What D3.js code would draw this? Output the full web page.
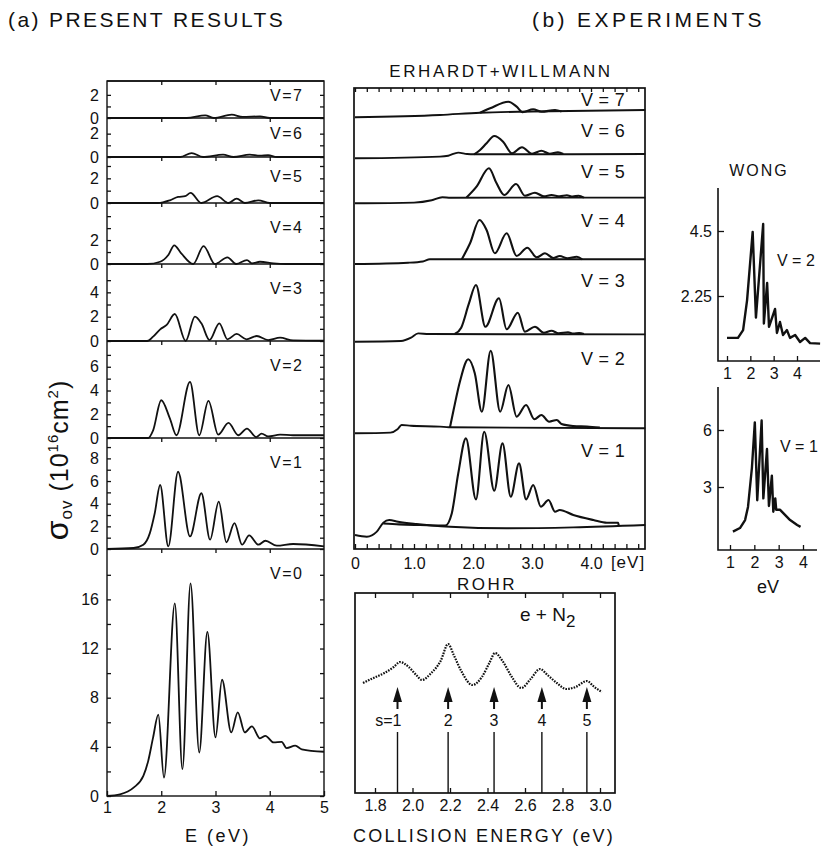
<!DOCTYPE html>
<html>
<head>
<meta charset="utf-8">
<script src="https://cdn.jsdelivr.net/npm/d3@7"></script>
<style>
  body { margin: 0; background: #fff; }
  text { font-family: "Liberation Sans", Arial, sans-serif; fill: #111; }
</style>
</head>
<body>
<svg id="chart" width="821" height="846"></svg>
<script>
// ---------- (a) present results: sigma (1e-16 cm^2) vs E (eV) ----------
const pres7 = [[1,0],[2.47,0],[2.81,0.23],[2.97,0],[3.3,0.29],[3.5,0.09],[3.82,0.14],[4.0,0],[5,0]];
const pres6 = [[1,0],[2.35,0],[2.56,0.34],[2.77,0],[3.14,0.2],[3.33,0],[3.63,0.2],[3.82,0.11],[3.97,0.15],[4.13,0],[5,0]];
const pres5 = [[1,0],[1.94,0],[2.16,0.22],[2.31,0.49],[2.44,0.55],[2.54,0.82],[2.74,0],[3.03,0.55],[3.24,0],[3.39,0.36],[3.54,0],[3.79,0.22],[4.0,0],[5,0]];
const pres4 = [[1,0],[1.74,0],[1.98,0.19],[2.13,0.75],[2.24,1.56],[2.36,0.94],[2.59,0],[2.78,1.5],[2.99,0],[3.22,0.56],[3.38,0],[3.58,0.33],[3.67,0.05],[3.82,0.19],[4.07,0.05],[4.3,0],[5,0]];
const pres3 = [[1,0],[1.74,0],[1.85,0.36],[1.98,0.96],[2.1,1.32],[2.25,2.22],[2.45,0],[2.62,2.0],[2.74,1.45],[2.89,0.08],[3.07,1.45],[3.22,0.14],[3.39,0.58],[3.57,0.14],[3.76,0.41],[3.97,0.08],[4.19,0.27],[4.43,0.05],[5,0.02]];
const pres2 = [[1,0],[1.76,0],[1.85,0.65],[2.0,3.18],[2.16,1.63],[2.28,0.23],[2.53,4.73],[2.7,0.23],[2.87,3.13],[3.05,0.28],[3.24,1.27],[3.42,0.23],[3.58,0.79],[3.75,0.08],[3.85,0.37],[3.97,0.14],[4.19,0.28],[4.43,0.23],[5,0.23]];
const pres1 = [[1,0],[1.49,0.09],[1.67,0.38],[1.79,1.4],[1.88,3.16],[1.98,5.65],[2.13,0.23],[2.31,6.82],[2.53,1.11],[2.74,4.92],[2.9,0.82],[3.06,4.19],[3.2,0.59],[3.35,2.28],[3.49,0.38],[3.62,1.2],[3.79,0.38],[3.92,0.73],[4.13,0.29],[4.43,0.44],[5,0.23]];
const pres0 = [[1,0],[1.24,0.14],[1.49,0.68],[1.67,1.63],[1.76,2.86],[1.85,4.77],[1.946,6.62],[2.05,1.5],[2.25,15.67],[2.39,2.18],[2.54,17.3],[2.7,3.54],[2.85,13.35],[3.0,4.77],[3.12,9.46],[3.29,5.18],[3.41,6.81],[3.54,5.18],[3.67,5.67],[3.82,4.69],[3.92,4.9],[4.07,4.36],[4.22,4.4],[4.31,3.9],[4.47,4.1],[4.59,3.8],[5,3.6]];

const presV = [7, 6, 5, 4, 3, 2, 1, 0];
const presCurves = [pres7, pres6, pres5, pres4, pres3, pres2, pres1, pres0];
const presYMax = [3.2, 3.34, 3.73, 5.1, 6.33, 8.17, 9.8, 20.1];
const presTickStep = [1, 1, 1, 1, 1, 1, 1, 2];
const presLabelStep = [2, 2, 2, 2, 2, 2, 2, 4];
const presLabelMax = [2, 2, 2, 2, 4, 6, 8, 16];
const presXTicks = [1, 2, 3, 4, 5];

// ---------- (b) Erhardt + Willmann: background and resonance, arb. units ----------
const ewBase7 = [[0,0],[1.44,2.3],[2.12,4.6],[3.0,5.8],[4.92,7.3]];
const ewRes7 = [[2.12,4.6],[2.29,9],[2.6,15.6],[2.74,10.6],[2.84,5.2],[3.02,8],[3.16,5.5],[3.39,7.3],[3.5,5.8]];
const ewBase6 = [[0,0],[1.44,1.7],[1.58,2.6],[1.75,5.7],[1.9,4.3],[2.02,4],[4.92,4.3]];
const ewRes6 = [[2.02,4],[2.12,8.3],[2.23,15],[2.36,22.3],[2.51,16.6],[2.66,5],[2.83,11],[3.0,4.5],[3.16,7.6],[3.3,4.5],[3.44,6],[3.53,4.3]];
const ewBase5 = [[0,0],[1.0,0.7],[1.3,3],[1.48,6],[1.62,5.6],[4.92,5.7]];
const ewRes5 = [[1.89,5.7],[2.06,16.6],[2.27,35],[2.4,20],[2.53,8.3],[2.73,19.3],[2.88,7.6],[3.05,10.6],[3.2,7],[3.33,8.3],[3.47,7],[3.59,8],[3.69,6.8],[3.79,7.6],[3.88,5.7]];
const ewBase4 = [[0,0],[0.9,1.3],[1.15,2.5],[1.27,4.7],[1.4,4.7],[4.92,4.7]];
const ewRes4 = [[1.81,4.7],[1.95,20.7],[2.11,44],[2.23,34],[2.37,10.7],[2.57,30.7],[2.74,8],[2.92,16.3],[3.08,6.7],[3.22,10.7],[3.36,6],[3.47,8],[3.6,5.8],[3.76,7.3],[3.85,4.7]];
const ewBase3 = [[0,0],[0.78,0.7],[0.95,4],[1.07,8.3],[1.25,7.7],[4.92,7.3]];
const ewRes3 = [[1.69,7.7],[1.8,14],[1.93,38],[2.05,56.7],[2.21,15],[2.44,43.4],[2.57,12.4],[2.76,29],[2.88,10],[3.05,15],[3.2,9],[3.33,11],[3.45,8.4],[3.61,9.4],[3.7,8.2],[3.8,8.7],[3.88,7.7]];
const ewBase2 = [[0,0],[0.6,0.7],[0.72,4],[0.79,8.3],[0.95,7.5],[1.44,6.7],[1.59,6],[4.92,5]];
const ewRes2 = [[1.61,6],[1.67,23],[1.78,52],[1.92,74],[2.03,60],[2.15,21.6],[2.3,82.6],[2.46,21.6],[2.6,48.3],[2.74,16.6],[2.9,28.3],[3.04,14],[3.16,18.3],[3.29,11.6],[3.42,13.3],[3.5,9.3],[3.7,7.3],[3.93,6.7],[4.15,5.7]];
const ewBase1 = [[0,0],[0.2,-1.7],[0.37,3.3],[0.48,12.3],[0.58,15],[0.73,13.3],[1.04,11],[1.61,8.3],[2.57,6.7],[3.7,7.6],[4.92,10]];
const ewRes1 = [[0.48,11.5],[0.75,10.6],[1.1,10],[1.53,9.4],[1.64,21.6],[1.75,61.6],[1.88,96.6],[2.05,35.6],[2.19,103.3],[2.36,44.3],[2.5,91.6],[2.64,38.3],[2.78,71.6],[2.9,35.6],[3.02,50],[3.15,28.3],[3.28,35],[3.39,23.3],[3.47,25],[3.7,20],[4.04,15],[4.27,12.3],[4.46,12.3],[4.47,9.5]];

const ewV = [7, 6, 5, 4, 3, 2, 1];
const ewBases = [ewBase7, ewBase6, ewBase5, ewBase4, ewBase3, ewBase2, ewBase1];
const ewRes = [ewRes7, ewRes6, ewRes5, ewRes4, ewRes3, ewRes2, ewRes1];
const ewXLabels = [0, 1, 2, 3, 4];

// ---------- Wong ----------
const wong2 = [[1.0,0.8],[1.47,0.8],[1.69,1.07],[1.86,2.1],[2.1,4.47],[2.24,1.5],[2.55,4.74],[2.58,1.3],[2.72,2.7],[2.8,1.18],[3.06,1.8],[3.14,0.97],[3.27,1.35],[3.4,0.9],[3.57,1.07],[3.7,0.8],[3.92,0.9],[4.13,0.66],[4.35,0.8],[4.56,0.62],[4.99,0.6]];
const wong1 = [[1.12,0.65],[1.41,0.84],[1.62,1.26],[1.74,1.95],[1.9,4.0],[2.02,6.4],[2.12,2.3],[2.3,6.5],[2.37,2.4],[2.52,5.0],[2.6,2.0],[2.72,3.6],[2.78,1.7],[2.86,2.4],[2.9,1.8],[3.06,1.8],[3.47,1.26],[3.76,1.0],[3.9,0.9]];
const wong2YTicks = [2.25, 4.5];
const wong1YTicks = [3, 6];
const wongXTicks = [1, 2, 3, 4];

// ---------- Rohr: e + N2, arb. units vs collision energy ----------
const rohr = [[1.736,55],[1.78,57],[1.85,60],[1.9,63],[1.933,65.5],[1.98,63],[2.02,59],[2.05,56.5],[2.1,60],[2.15,66],[2.19,74.5],[2.22,69],[2.26,61],[2.32,54],[2.37,58],[2.41,65],[2.44,70],[2.48,66],[2.53,58],[2.58,52.5],[2.63,57],[2.68,62],[2.72,59],[2.77,55],[2.82,52],[2.87,53],[2.93,56],[2.97,53],[3.01,50.5]];
const rohrArrowE = [1.92, 2.19, 2.435, 2.69, 2.93];
const rohrArrowLabels = ['s=1', '2', '3', '4', '5'];
const rohrXTicks = [1.8, 2.0, 2.2, 2.4, 2.6, 2.8, 3.0];

const svg = d3.select('#chart');
const ink = '#111';

let lineOf = (x, y, curve) => d3.line().x(d => x(d[0])).y(d => y(d[1])).curve(curve);

let styleAxis = (g, size) => {
  g.select('.domain').remove();
  g.selectAll('line').attr('stroke', ink).attr('stroke-width', 1.3);
  g.selectAll('text').attr('fill', ink).style('font-size', size + 'px');
};

// ---------- titles ----------
svg.append('text').attr('x', 8).attr('y', 27).style('font-size', '21px')
  .style('letter-spacing', '2.4px').text('(a) PRESENT RESULTS');
svg.append('text').attr('x', 532).attr('y', 27).style('font-size', '21px')
  .style('letter-spacing', '3.4px').text('(b) EXPERIMENTS');

// ---------- (a) panels ----------
const presX = d3.scaleLinear().domain([1, 5]).range([107, 324]);
const presEdges = [81, 118, 157, 203, 264, 341, 438, 549, 796];

presV.forEach((v, i) => {
  const top = presEdges[i];
  const bot = presEdges[i + 1];
  const y = d3.scaleLinear().domain([0, presYMax[i]]).range([bot, top]);
  const ticks = d3.range(0, presYMax[i] - 0.4, presTickStep[i]);

  svg.append('g').attr('transform', `translate(${presX.range()[0]},0)`)
    .call(d3.axisLeft(y).tickValues(ticks).tickSize(-4).tickPadding(8)
      .tickFormat(d => (d % presLabelStep[i] === 0 && d <= presLabelMax[i] ? d : '')))
    .call(g => styleAxis(g, 16));
  svg.append('g').attr('transform', `translate(${presX.range()[1]},0)`)
    .call(d3.axisRight(y).tickValues(ticks).tickSize(-4).tickFormat(''))
    .call(g => styleAxis(g, 16));
  svg.append('g').attr('transform', `translate(0,${top})`)
    .call(d3.axisTop(presX).tickValues([2, 3, 4]).tickSize(-4).tickFormat(''))
    .call(g => styleAxis(g, 16));

  svg.append('line').attr('x1', presX(1)).attr('x2', presX(5))
    .attr('y1', top).attr('y2', top).attr('stroke', ink).attr('stroke-width', 1.4);

  svg.append('path').datum(presCurves[i])
    .attr('d', lineOf(presX, y, d3.curveMonotoneX))
    .attr('fill', 'none').attr('stroke', ink).attr('stroke-width', 1.8);

  svg.append('text').attr('x', 270).attr('y', top + Math.min(30, 0.55 * (bot - top)))
    .style('font-size', '16px').style('letter-spacing', '1.5px').text('V=' + v);
});

// frame sides and bottom axis
svg.append('rect').attr('x', presX(1)).attr('y', presEdges[0])
  .attr('width', presX(5) - presX(1)).attr('height', presEdges[8] - presEdges[0])
  .attr('fill', 'none').attr('stroke', ink).attr('stroke-width', 1.4);
svg.append('g').attr('transform', `translate(0,${presEdges[8]})`)
  .call(d3.axisBottom(presX).tickValues(presXTicks).tickSize(-5).tickPadding(6).tickFormat(d3.format('d')))
  .call(g => styleAxis(g, 16));
svg.append('text').attr('x', 218).attr('y', 842).attr('text-anchor', 'middle')
  .style('font-size', '18px').style('letter-spacing', '2.5px').text('E (eV)');

// y-axis title
const yTitle = svg.append('text').attr('transform', 'translate(68,460) rotate(-90)')
  .attr('text-anchor', 'middle').style('letter-spacing', '1px');
yTitle.append('tspan').style('font-size', '32px').text('σ');
yTitle.append('tspan').style('font-size', '17px').attr('dy', 4).text('ov');
yTitle.append('tspan').style('font-size', '25px').attr('dy', -4).text(' (10');
yTitle.append('tspan').style('font-size', '15px').attr('dy', -10).text('16');
yTitle.append('tspan').style('font-size', '25px').attr('dy', 10).text('cm');
yTitle.append('tspan').style('font-size', '15px').attr('dy', -10).text('2');
yTitle.append('tspan').style('font-size', '25px').attr('dy', 10).text(')');

// ---------- (b) Erhardt + Willmann ----------
const ewX = d3.scaleLinear().domain([0, 4]).range([355, 591]);
const ewY = d3.scaleLinear().domain([0, 100]).range([0, -100]);
const ewOffsets = [117.3, 158.3, 203.3, 264, 341.7, 433.3, 535];
const ewLabelY = [106, 137, 178, 227, 287, 365, 457];
const ewFrame = { left: 354, right: 645, top: 88, bottom: 549 };
const ewTicks = d3.range(0, 4.85, 0.2);

svg.append('text').attr('x', 501).attr('y', 77).attr('text-anchor', 'middle')
  .style('font-size', '17px').style('letter-spacing', '2.6px').text('ERHARDT+WILLMANN');

svg.append('rect').attr('x', ewFrame.left).attr('y', ewFrame.top)
  .attr('width', ewFrame.right - ewFrame.left).attr('height', ewFrame.bottom - ewFrame.top)
  .attr('fill', 'none').attr('stroke', ink).attr('stroke-width', 1.7);
svg.append('g').attr('transform', `translate(0,${ewFrame.bottom})`)
  .call(d3.axisBottom(ewX).tickValues(ewTicks).tickSize(-5).tickPadding(7).tickFormat(''))
  .call(g => styleAxis(g, 16));
svg.append('g').attr('transform', `translate(0,${ewFrame.top})`)
  .call(d3.axisTop(ewX).tickValues(ewTicks).tickSize(-4).tickFormat(''))
  .call(g => styleAxis(g, 16));
svg.append('g').attr('transform', `translate(0,${ewFrame.bottom})`)
  .call(d3.axisBottom(ewX).tickValues(ewXLabels).tickSize(0).tickPadding(9)
    .tickFormat(d => (d === 0 ? '0' : d3.format('.1f')(d))))
  .call(g => styleAxis(g, 16));
svg.append('text').attr('x', 628).attr('y', 568).attr('text-anchor', 'middle')
  .style('font-size', '17px').style('letter-spacing', '1px').text('[eV]');

ewV.forEach((v, i) => {
  const g = svg.append('g').attr('transform', `translate(0,${ewOffsets[i]})`);
  g.append('path').datum(ewBases[i])
    .attr('d', lineOf(ewX, ewY, d3.curveMonotoneX))
    .attr('fill', 'none').attr('stroke', ink).attr('stroke-width', 1.9);
  g.append('path').datum(ewRes[i])
    .attr('d', lineOf(ewX, ewY, d3.curveMonotoneX))
    .attr('fill', 'none').attr('stroke', ink).attr('stroke-width', 2.1);
  svg.append('text').attr('x', 581).attr('y', ewLabelY[i])
    .style('font-size', '18px').style('letter-spacing', '0.3px').text('V = ' + v);
});

// ---------- Rohr ----------
const rohrX = d3.scaleLinear().domain([1.8, 3.0]).range([375, 600]);
const rohrY = d3.scaleLinear().domain([0, 100]).range([793, 593]);
const rohrFrame = { left: 355, right: 615, top: 593, bottom: 793 };

svg.append('text').attr('x', 487).attr('y', 590).attr('text-anchor', 'middle')
  .style('font-size', '17px').style('letter-spacing', '2.5px').text('ROHR');
svg.append('rect').attr('x', rohrFrame.left).attr('y', rohrFrame.top)
  .attr('width', rohrFrame.right - rohrFrame.left).attr('height', rohrFrame.bottom - rohrFrame.top)
  .attr('fill', 'none').attr('stroke', ink).attr('stroke-width', 1.7);
svg.append('g').attr('transform', `translate(0,${rohrFrame.bottom})`)
  .call(d3.axisBottom(rohrX).tickValues(rohrXTicks).tickSize(-5).tickPadding(7).tickFormat(d3.format('.1f')))
  .call(g => styleAxis(g, 16));
svg.append('g').attr('transform', `translate(0,${rohrFrame.top})`)
  .call(d3.axisTop(rohrX).tickValues(rohrXTicks).tickSize(-5).tickFormat(''))
  .call(g => styleAxis(g, 16));
svg.append('text').attr('x', 484).attr('y', 842).attr('text-anchor', 'middle')
  .style('font-size', '18px').style('letter-spacing', '2.2px').text('COLLISION ENERGY (eV)');

const eN2 = svg.append('text').attr('x', 520).attr('y', 621).style('font-size', '19px');
eN2.append('tspan').text('e + N');
eN2.append('tspan').attr('dy', 6).style('font-size', '17px').text('2');

svg.append('path').datum(rohr)
  .attr('d', lineOf(rohrX, rohrY, d3.curveMonotoneX))
  .attr('fill', 'none').attr('stroke', ink).attr('stroke-width', 2.2)
  .attr('stroke-dasharray', '1.6 1.2');

rohrArrowE.forEach((e, i) => {
  const x = rohrX(e);
  svg.append('line').attr('x1', x).attr('x2', x).attr('y1', rohrFrame.bottom).attr('y2', 732)
    .attr('stroke', ink).attr('stroke-width', 1.4);
  svg.append('line').attr('x1', x).attr('x2', x).attr('y1', 709).attr('y2', 698)
    .attr('stroke', ink).attr('stroke-width', 2);
  svg.append('path').attr('d', `M${x},687 L${x - 4.5},702 L${x + 4.5},702 Z`).attr('fill', ink);
  svg.append('text').attr('x', i === 0 ? x + 4 : x).attr('y', 726)
    .attr('text-anchor', i === 0 ? 'end' : 'middle').style('font-size', '16px')
    .text(rohrArrowLabels[i]);
});

// ---------- Wong ----------
svg.append('text').attr('x', 759).attr('y', 176).attr('text-anchor', 'middle')
  .style('font-size', '16px').style('letter-spacing', '2px').text('WONG');

let drawWong = (data, x, y, yTicks, box, label, labelX, labelY, showUnit) => {
  svg.append('path')
    .attr('d', `M${box.left},${box.top} L${box.left},${box.bottom} L${box.right},${box.bottom}`)
    .attr('fill', 'none').attr('stroke', ink).attr('stroke-width', 1.6);
  svg.append('g').attr('transform', `translate(${box.left},0)`)
    .call(d3.axisLeft(y).tickValues(yTicks).tickSize(-6).tickPadding(6).tickFormat(d => d))
    .call(g => styleAxis(g, 16));
  svg.append('g').attr('transform', `translate(0,${box.bottom})`)
    .call(d3.axisBottom(x).tickValues(wongXTicks).tickSize(-5).tickPadding(7).tickFormat(d3.format('d')))
    .call(g => styleAxis(g, 16));
  svg.append('path').datum(data)
    .attr('d', lineOf(x, y, d3.curveLinear))
    .attr('fill', 'none').attr('stroke', ink).attr('stroke-width', 2.4).attr('stroke-linejoin', 'round');
  svg.append('text').attr('x', labelX).attr('y', labelY)
    .style('font-size', '16px').text(label);
  if (showUnit) {
    svg.append('text').attr('x', 768).attr('y', box.bottom + 43).attr('text-anchor', 'middle')
      .style('font-size', '18px').text('eV');
  }
};

drawWong(wong2,
  d3.scaleLinear().domain([1, 4]).range([727, 797]),
  d3.scaleLinear().domain([0, 4.5]).range([361, 231]),
  wong2YTicks, { left: 718, right: 820, top: 188, bottom: 361 }, 'V = 2', 777, 266, false);
drawWong(wong1,
  d3.scaleLinear().domain([1, 4]).range([730, 803]),
  d3.scaleLinear().domain([3, 6]).range([487, 430]),
  wong1YTicks, { left: 718, right: 817, top: 387, bottom: 550 }, 'V = 1', 780, 452, true);
</script>
</body>
</html>
